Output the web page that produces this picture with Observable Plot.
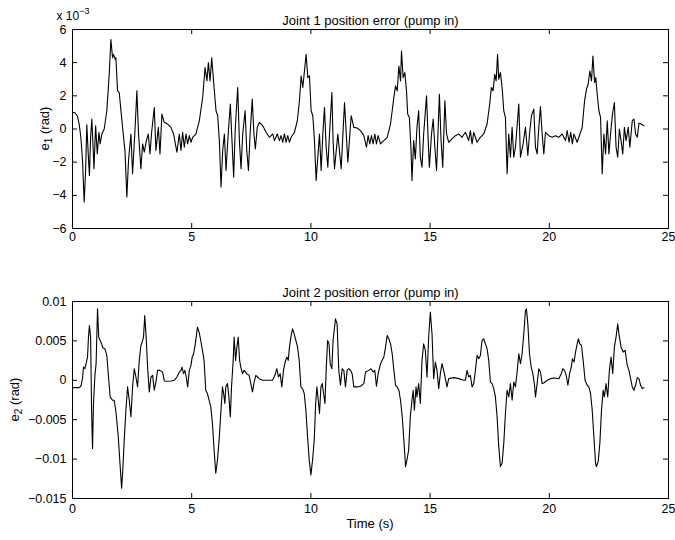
<!DOCTYPE html>
<html>
<head>
<meta charset="utf-8">
<script src="https://cdn.jsdelivr.net/npm/d3@7"></script>
<script src="https://cdn.jsdelivr.net/npm/@observablehq/plot@0.6"></script>
<style>
  body { margin: 0; background: #fff; }
  #chart { position: relative; width: 675px; height: 540px; font-family: "Liberation Sans", Arial, sans-serif; }
  #chart svg { position: absolute; left: 0; }
</style>
</head>
<body>
<div id="chart"></div>
<script>
// Joint 1 position error, time (s) and error (units of 1e-3 rad)
const time1 = [
  0, 0.1, 0.2, 0.28, 0.35, 0.42, 0.49, 0.55, 0.6, 0.66,
  0.71, 0.76, 0.81, 0.86, 0.9, 0.97, 1.04, 1.11, 1.16, 1.23,
  1.33, 1.44, 1.54, 1.61, 1.68, 1.72, 1.75, 1.79, 1.82, 1.89,
  1.96, 2.1, 2.2, 2.28, 2.35, 2.45, 2.52, 2.62, 2.7, 2.77,
  2.87, 2.94, 3.01, 3.1, 3.18, 3.25, 3.32, 3.43, 3.5, 3.6,
  3.67, 3.75, 3.85, 3.99, 4.13, 4.24, 4.38, 4.48, 4.55, 4.62,
  4.69, 4.76, 4.83, 4.9, 4.97, 5.04, 5.18, 5.32, 5.46, 5.56,
  5.64, 5.7, 5.77, 5.84, 5.91, 6.02, 6.09, 6.16, 6.23, 6.3,
  6.37, 6.44, 6.54, 6.62, 6.69, 6.76, 6.83, 6.93, 7.0, 7.07,
  7.14, 7.24, 7.31, 7.38, 7.45, 7.54, 7.61, 7.67, 7.75, 7.84,
  7.98, 8.12, 8.26, 8.4, 8.47, 8.59, 8.68, 8.75, 8.82, 8.89,
  8.96, 9.03, 9.1, 9.17, 9.31, 9.43, 9.52, 9.59, 9.66, 9.73,
  9.8, 9.87, 9.94, 10.01, 10.08, 10.15, 10.22, 10.29, 10.36, 10.43,
  10.5, 10.57, 10.64, 10.71, 10.78, 10.88, 10.93, 10.99, 11.13, 11.27,
  11.41, 11.55, 11.69, 11.8, 11.94, 12.08, 12.22, 12.33, 12.4, 12.47,
  12.54, 12.61, 12.68, 12.75, 12.82, 12.92, 13.06, 13.2, 13.34, 13.48,
  13.55, 13.62, 13.69, 13.76, 13.8, 13.87, 13.94, 14.01, 14.06, 14.13,
  14.2, 14.24, 14.31, 14.38, 14.45, 14.52, 14.59, 14.66, 14.73, 14.85,
  14.92, 14.97, 15.06, 15.13, 15.2, 15.27, 15.34, 15.39, 15.46, 15.53,
  15.62, 15.69, 15.78, 15.92, 16.06, 16.2, 16.34, 16.48, 16.62, 16.69,
  16.76, 16.83, 16.97, 17.11, 17.25, 17.39, 17.5, 17.57, 17.64, 17.71,
  17.77, 17.83, 17.88, 17.95, 18.02, 18.09, 18.16, 18.23, 18.3, 18.37,
  18.44, 18.51, 18.58, 18.65, 18.72, 18.79, 18.9, 19.0, 19.1, 19.17,
  19.25, 19.35, 19.42, 19.49, 19.56, 19.63, 19.7, 19.77, 19.84, 19.98,
  20.12, 20.26, 20.4, 20.54, 20.68, 20.75, 20.83, 20.9, 20.97, 21.03,
  21.17, 21.24, 21.38, 21.48, 21.56, 21.63, 21.7, 21.77, 21.83, 21.9,
  21.95, 22.01, 22.08, 22.15, 22.22, 22.29, 22.36, 22.43, 22.5, 22.57,
  22.65, 22.73, 22.8, 22.87, 22.94, 23.01, 23.08, 23.15, 23.22, 23.31,
  23.38, 23.48, 23.55, 23.62, 23.69, 23.76, 23.85, 23.97
];
const err1 = [
  1.0, 0.98, 0.8, 0.3, -0.5, -1.9, -4.4, -2.5, 0.26, -1.5,
  -2.8, -0.5, 0.6, -1.0, -2.4, 0.2, -1.5, -0.2, -0.9, -0.3,
  0, 1.1, 3.3, 5.4, 4.3, 4.5, 4.4, 4.2, 4.3, 2.3,
  2.2, 0.1, -1.3, -4.1, -1.9, -0.3, -2.7, -0.1, 2.3, -0.3,
  -2.4, -0.9, -1.4, -0.7, -0.3, -1.5, -0.2, 1.3, -1.3, 0.1,
  -1.5, 0.9, 0.4, 0.3, 0.1, -0.3, -1.4, -0.3, -1.3, -0.2,
  -1.1, -0.3, -0.9, -0.4, -0.8, -0.5, -0.3, 0.5, 1.9, 3.7,
  2.9, 4.0, 2.9, 4.3, 3.0, 1.1, 0.8, -0.7, -3.5, -1.3,
  -0.3, -2.5, -0.1, 1.5, -0.7, -2.9, 0.1, 2.5, -0.7, -2.4,
  -0.3, 1.1, -1.3, -2.5, -0.3, 1.8, -0.3, -1.2, 0.1, 0.4,
  0.2, -0.2, -0.5, -0.3, -0.7, -0.3, -0.7, -0.4, -0.8, -0.3,
  -0.8, -0.4, -0.8, -0.5, -0.2, 0.5, 1.7, 3.2, 2.5, 3.5,
  4.5, 3.1, 3.2, 1.1, 0.8, -0.7, -3.1, -1.7, -0.3, -2.5,
  -0.3, 1.3, -1.1, -2.3, -0.3, 2.2, -0.7, -2.4, -0.3, -2.4,
  1.6, -2.0, 0.8, 0.1, 0.06, -0.1, -0.4, -1.1, -0.4, -0.9,
  -0.4, -0.9, -0.3, -0.9, -0.4, -0.9, -0.7, -0.5, 0.3, 1.9,
  2.6, 2.3, 3.8, 2.9, 4.7, 3.1, 3.4, 2.3, 0.9, 0.7,
  -1.3, -3.1, -0.7, -1.8, 0.1, 1.1, -1.7, -2.3, -0.3, 2.0,
  -0.7, -2.3, -0.3, 0.6, -1.1, -2.5, 0.1, 2.1, -0.7, -2.3,
  1.7, -0.3, -0.8, -0.6, -0.4, -0.3, -0.5, -0.2, -0.7, -0.1,
  -0.9, -0.2, -0.8, -0.5, -0.3, 0.3, 1.5, 2.5, 2.3, 3.3,
  2.9, 4.5, 3.0, 3.4, 2.5, 1.1, 0.7, -2.7, -0.3, -1.7,
  0.1, -1.7, -1.1, 0.2, 1.5, -1.7, -0.9, 0.1, -1.6, -0.3,
  0.8, 1.2, -1.1, -1.5, 0.1, 1.35, -0.3, -1.5, -0.2, -0.4,
  -0.5, -0.4, -0.5, -0.3, -0.7, -0.1, -0.8, -0.2, -0.9, -0.3,
  -0.8, -0.5, 0.1, 1.7, 2.4, 2.7, 3.5, 2.9, 4.4, 2.8,
  3.1, 2.1, 1.1, 0.7, -2.7, -0.3, -1.5, 0.5, -1.5, -0.3,
  0.9, 1.6, -1.1, -1.7, 0.0, -0.7, -1.5, 0.1, -0.7, 0.1,
  -1.1, 0.5, 0.6, -0.3, -0.5, 0.35, 0.3, 0.2
];

// Joint 2 position error, time (s) and error (units of 1e-3 rad)
const time2 = [
  0, 0.28, 0.35, 0.42, 0.46, 0.52, 0.57, 0.63, 0.67, 0.71,
  0.76, 0.8, 0.84, 0.88, 0.94, 0.99, 1.05, 1.1, 1.16, 1.22,
  1.27, 1.36, 1.44, 1.5, 1.58, 1.68, 1.75, 1.83, 1.92, 2.0,
  2.06, 2.11, 2.17, 2.24, 2.31, 2.38, 2.45, 2.52, 2.59, 2.66,
  2.73, 2.8, 2.87, 2.92, 2.98, 3.03, 3.09, 3.15, 3.22, 3.29,
  3.36, 3.43, 3.5, 3.57, 3.66, 3.78, 3.85, 3.99, 4.13, 4.27,
  4.38, 4.48, 4.55, 4.59, 4.66, 4.71, 4.77, 4.83, 4.9, 4.97,
  5.02, 5.08, 5.13, 5.19, 5.24, 5.31, 5.38, 5.45, 5.52, 5.59,
  5.66, 5.73, 5.8, 5.87, 5.94, 6.01, 6.08, 6.15, 6.22, 6.29,
  6.34, 6.39, 6.43, 6.5, 6.56, 6.62, 6.67, 6.74, 6.78, 6.84,
  6.88, 6.95, 7.01, 7.06, 7.13, 7.2, 7.31, 7.41, 7.48, 7.55,
  7.62, 7.69, 7.76, 7.83, 7.97, 8.18, 8.39, 8.49, 8.57, 8.64,
  8.71, 8.78, 8.85, 8.92, 8.99, 9.05, 9.1, 9.16, 9.23, 9.3,
  9.37, 9.44, 9.51, 9.58, 9.65, 9.72, 9.79, 9.86, 9.93, 10.0,
  10.07, 10.14, 10.2, 10.25, 10.31, 10.36, 10.42, 10.48, 10.53, 10.59,
  10.64, 10.7, 10.76, 10.81, 10.88, 10.93, 11.03, 11.1, 11.17, 11.24,
  11.31, 11.38, 11.45, 11.52, 11.59, 11.66, 11.73, 11.8, 11.94, 12.08,
  12.22, 12.29, 12.43, 12.52, 12.61, 12.68, 12.75, 12.82, 12.92, 12.99,
  13.06, 13.13, 13.2, 13.27, 13.34, 13.41, 13.48, 13.55, 13.62, 13.69,
  13.76, 13.83, 13.9, 13.97, 14.03, 14.1, 14.17, 14.24, 14.29, 14.34,
  14.41, 14.45, 14.52, 14.59, 14.66, 14.73, 14.8, 14.87, 14.94, 15.01,
  15.08, 15.15, 15.22, 15.29, 15.36, 15.43, 15.5, 15.57, 15.64, 15.71,
  15.78, 15.99, 16.2, 16.41, 16.48, 16.55, 16.62, 16.69, 16.76, 16.83,
  16.9, 16.97, 17.04, 17.11, 17.18, 17.25, 17.32, 17.39, 17.46, 17.53,
  17.6, 17.67, 17.74, 17.81, 17.88, 17.95, 18.02, 18.09, 18.16, 18.23,
  18.3, 18.37, 18.44, 18.51, 18.58, 18.65, 18.72, 18.79, 18.86, 18.93,
  19.0, 19.04, 19.1, 19.17, 19.24, 19.31, 19.38, 19.42, 19.49, 19.56,
  19.63, 19.7, 19.77, 19.91, 20.05, 20.19, 20.4, 20.5, 20.57, 20.64,
  20.71, 20.78, 20.85, 20.92, 20.97, 21.04, 21.1, 21.17, 21.22, 21.28,
  21.35, 21.42, 21.5, 21.59, 21.66, 21.73, 21.8, 21.87, 21.94, 21.98,
  22.05, 22.12, 22.19, 22.26, 22.31, 22.38, 22.45, 22.52, 22.59, 22.66,
  22.73, 22.8, 22.87, 22.93, 23.01, 23.1, 23.18, 23.27, 23.34, 23.41,
  23.48, 23.55, 23.62, 23.69, 23.76, 23.83, 23.9, 23.97
];
const err2Milli = [
  -0.93, -0.93, -0.76, 0.21, 1.68, 1.47, 2.11, 2.95, 5.48, 6.95,
  5.48, -3.79, -8.64, -2.95, 0.63, 2.11, 9.06, 5.48, 5.05, 4.63,
  4.13, 4.0, 3.16, 0.84, -2.11, -2.53, -2.53, -4.21, -7.16, -10.95,
  -13.69, -11.37, -7.58, -3.79, -0.84, -2.53, -4.63, -0.84, 1.47, 0.42,
  -0.84, 2.53, 4.42, 4.84, 5.48, 8.21, 5.48, 1.68, -1.47, 0.42,
  0.63, -1.26, -0.21, 1.26, 1.26, 1.05, -0.08, -0.13, -0.08, 0,
  0.42, 1.05, 1.26, 1.68, 0.84, 1.26, 0.42, -0.84, 1.26, 1.9,
  2.95, 3.37, 4.21, 5.48, 6.74, 6.11, 5.05, 3.79, 2.53, -1.26,
  -1.68, -2.53, -3.37, -5.48, -8.85, -11.79, -10.11, -7.58, -4.21, -0.84,
  -1.68, -2.95, -0.84, -0.42, -2.11, -4.63, -0.84, 2.53, 5.48, 2.53,
  3.79, 5.48, 2.53, 1.68, 0.84, 1.26, 0.84, 0.63, -0.42, -1.47,
  -0.21, 0.63, 0.42, 0.21, 0, 0, 0, 0.63, 1.47, 0.42,
  0.84, -0.84, 1.26, 2.32, 2.95, 2.53, 4.21, 5.48, 6.53, 5.9,
  5.05, 4.21, 2.53, -0.84, -1.05, -1.68, -3.79, -7.16, -10.11, -12.0,
  -10.11, -7.58, -2.95, -0.84, -2.53, -4.21, -0.84, -0.42, -1.68, -2.95,
  1.26, 5.05, 4.63, 2.11, 1.47, 5.05, 7.79, 7.16, 1.26, -0.63,
  1.47, 1.26, -0.84, 1.26, 1.47, 1.26, 0.84, -0.84, -0.84, -0.76,
  -0.42, 1.05, 1.26, 1.47, 1.05, 1.26, -0.76, 0.84, 2.11, 2.53,
  2.95, 4.21, 5.69, 5.27, 4.63, 3.37, 1.26, -0.63, -0.84, -1.26,
  -2.53, -4.63, -7.58, -10.95, -10.11, -8.85, -4.63, -2.53, -1.26, -3.79,
  -0.84, -2.11, -0.42, -2.95, 2.53, 4.63, 3.79, 0.42, 5.48, 8.64,
  5.9, 0.21, 2.32, 1.26, -1.05, 0.84, 2.11, 1.26, 0.21, -0.84,
  0.21, 0.34, 0.21, 0, 0, 1.26, 0.42, 0.63, -0.84, -0.42,
  1.26, 3.16, 2.74, 3.16, 5.05, 5.27, 4.63, 4.0, 2.53, -0.21,
  -0.42, -1.05, -2.11, -4.63, -8.42, -10.95, -10.53, -8.0, -4.21, -1.26,
  -2.11, -0.42, -2.53, -0.21, -0.84, 1.05, 3.37, 2.11, 3.37, 5.9,
  8.85, 9.06, 7.16, 3.37, 1.68, 0.84, -0.63, -2.11, -0.42, 1.47,
  1.05, -0.42, -0.34, 0, 0.21, 0.29, 0.21, 0.84, 1.47, 1.26,
  0.63, -0.63, 0.84, 1.68, 2.74, 2.32, 3.58, 4.63, 5.27, 4.63,
  4.42, 2.53, 0, -0.63, -0.84, -1.68, -3.79, -7.16, -10.53, -10.95,
  -10.32, -8.0, -3.79, -1.26, -2.11, -0.42, -2.11, 1.26, 2.95, 0.84,
  4.21, 5.48, 7.16, 5.69, 4.21, 3.58, 3.79, 1.9, 1.26, 0.21,
  -0.84, -1.26, -0.63, 0.34, 0.21, -0.63, -1.05, -0.93
];

// Axis ticks
const timeTicks = [0, 5, 10, 15, 20, 25];
const err1Ticks = [-6, -4, -2, 0, 2, 4, 6];
const err2Ticks = [-0.015, -0.01, -0.005, 0, 0.005, 0.01];

const series1 = time1.map((t, i) => ({t, e: err1[i]}));
const series2 = time2.map((t, i) => ({t, e: err2Milli[i] / 1000}));

const minus = s => s.replace("-", "\u2212");
const W = 675, ML = 72, MR = 7;

function panel({data, yDomain, yTicks, yFormat, height, mt, mb, title, xPad}) {
  const fw = W - ML - MR, fh = height - mt - mb;
  return Plot.plot({
    width: W, height,
    marginLeft: ML, marginRight: MR, marginTop: mt, marginBottom: mb,
    style: {fontFamily: "Liberation Sans, Arial, sans-serif", fontSize: "12.5px", color: "#000", background: "#fff"},
    x: {domain: [0, 25]},
    y: {domain: yDomain},
    marks: [
      Plot.line(data, {x: "t", y: "e", stroke: "#000", strokeWidth: 1.1}),
      // inward tick marks on all four sides of the box
      Plot.tickX(timeTicks, {x: d => d, insetTop: fh - 5, stroke: "#000"}),
      Plot.tickX(timeTicks, {x: d => d, insetBottom: fh - 5, stroke: "#000"}),
      Plot.tickY(yTicks, {y: d => d, insetRight: fw - 5, stroke: "#000"}),
      Plot.tickY(yTicks, {y: d => d, insetLeft: fw - 5, stroke: "#000"}),
      Plot.frame({stroke: "#000", strokeWidth: 1}),
      Plot.axisX(timeTicks, {anchor: "bottom", tickSize: 0, tickPadding: xPad, label: null, fontSize: 12.5}),
      Plot.axisY(yTicks, {anchor: "left", tickSize: 0, tickPadding: 6, tickFormat: yFormat, label: null, fontSize: 12.5}),
      Plot.text([title], {frameAnchor: "top", dy: -14, fontSize: 13})
    ]
  });
}

const chart = document.getElementById("chart");

const plot1 = panel({
  data: series1, yDomain: [-6, 6], yTicks: err1Ticks,
  yFormat: d => minus(String(d)),
  height: 260, mt: 29, mb: 32, xPad: 4,
  title: "Joint 1 position error (pump in)"
});
plot1.style.top = "0px";
chart.appendChild(plot1);

const plot2 = panel({
  data: series2, yDomain: [-0.015, 0.01], yTicks: err2Ticks,
  yFormat: d => minus(String(+d.toFixed(3))),
  height: 280, mt: 41, mb: 42, xPad: 6,
  title: "Joint 2 position error (pump in)"
});
plot2.style.top = "260px";
chart.appendChild(plot2);

// Y labels with subscripts, exponent multiplier and the time label
function yLabel(svg, x, y, sub) {
  const t = d3.select(svg).append("text")
    .attr("transform", `translate(${x},${y}) rotate(-90)`)
    .attr("text-anchor", "middle")
    .attr("font-size", 13)
    .attr("fill", "#000");
  t.append("tspan").text("e");
  t.append("tspan").attr("dy", 3).attr("font-size", 10).text(sub);
  t.append("tspan").attr("dy", -3).text(" (rad)");
}
yLabel(plot1, 49, 128.5, "1");
yLabel(plot2, 19, 139.5, "2");

const mult = d3.select(plot1).append("text")
  .attr("x", 73).attr("y", 20).attr("font-size", 12).attr("fill", "#000");
mult.append("tspan").text("x 10");
mult.append("tspan").attr("dy", -6).attr("font-size", 9).text("\u22123");

d3.select(plot2).append("text")
  .attr("x", 370).attr("y", 268).attr("text-anchor", "middle")
  .attr("font-size", 13).attr("fill", "#000").text("Time (s)");
</script>
</body>
</html>
